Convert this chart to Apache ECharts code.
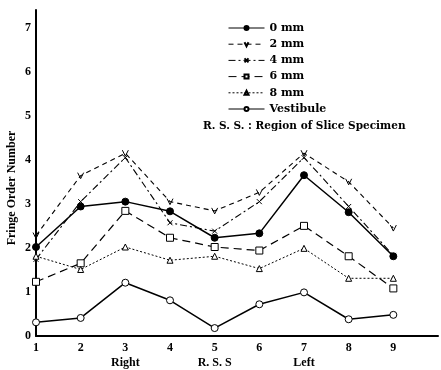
<!DOCTYPE html>
<html>
<head>
<meta charset="utf-8">
<script src="https://cdn.jsdelivr.net/npm/echarts@6/dist/echarts.min.js"></script>
<style>html,body{margin:0;padding:0;background:#fff;}#c{width:441px;height:370px;}</style>
</head>
<body>
<div id="c"></div>
<script>
const categories = ['1','2','3','4','5','6','7','8','9',''];
const subLabels = {'3':'Right','5':'R. S. S','7':'Left'};
const yTicks = [0,1,2,3,4,5,6,7];

const seriesNames = ['0 mm','2 mm','4 mm','6 mm','8 mm','Vestibule'];
const mm0 = [2.02, 2.94, 3.05, 2.83, 2.23, 2.33, 3.65, 2.81, 1.81];
const mm2 = [2.28, 3.64, 4.15, 3.05, 2.84, 3.26, 4.15, 3.50, 2.45];
const mm4 = [1.74, 3.05, 4.05, 2.57, 2.38, 3.05, 4.05, 2.94, 1.83];
const mm6 = [1.23, 1.65, 2.84, 2.23, 2.02, 1.94, 2.50, 1.81, 1.08];
const mm8 = [1.81, 1.51, 2.02, 1.72, 1.81, 1.53, 1.99, 1.31, 1.31];
const vest = [0.31, 0.41, 1.21, 0.81, 0.18, 0.72, 0.99, 0.38, 0.48];

const FONT = "'Liberation Serif', 'DejaVu Serif', serif";
const WFONT = "'DejaVu Serif', serif";

function mk(name, data, lineType, symbol, size, fill, width) {
  return {
    name: name, type: 'line', data: data,
    symbol: symbol, symbolSize: size, showAllSymbol: true,
    lineStyle: {color: '#000', width: width, type: lineType},
    itemStyle: {color: fill, borderColor: '#000', borderWidth: 1},
    emphasis: {disabled: true},
    animation: false, z: 3
  };
}

const chart = echarts.init(document.getElementById('c'), null, {renderer: 'canvas'});
chart.setOption({
  backgroundColor: '#fff',
  animation: false,
  grid: {left: 36, right: -3, top: 10, bottom: 33, containLabel: false},
  xAxis: {
    type: 'category', data: categories, boundaryGap: false,
    axisLine: {lineStyle: {color: '#000', width: 2}},
    axisTick: {show: false},
    axisLabel: {
      interval: 0, color: '#000', fontFamily: FONT, fontWeight: 'bold', fontSize: 12,
      lineHeight: 15, margin: 4,
      formatter: function (v) { return subLabels[v] ? v + '\n' + subLabels[v] : v; }
    },
    splitLine: {show: false}
  },
  yAxis: {
    type: 'value', min: 0, max: 7.4, interval: 1,
    axisLine: {show: true, lineStyle: {color: '#000', width: 2}},
    axisTick: {show: false},
    axisLabel: {
      color: '#000', fontFamily: FONT, fontWeight: 'bold', fontSize: 12, margin: 5,
      formatter: function (v) { return yTicks.indexOf(v) >= 0 ? String(v) : ''; }
    },
    splitLine: {show: false}
  },
  legend: {
    orient: 'vertical', left: 228, top: 22, padding: 0,
    itemWidth: 36, itemHeight: 5, itemGap: 4.2,
    lineStyle: {width: 1},
    textStyle: {color: '#000', fontFamily: WFONT, fontWeight: 'bold', fontSize: 11, lineHeight: 12},
    data: seriesNames
  },
  graphic: [
    {type: 'text', left: 203, top: 121,
     style: {text: 'R. S. S. : Region of Slice Specimen', fill: '#000', font: 'bold 10.5px ' + WFONT}},
    {type: 'text', x: 6, y: 188, rotation: Math.PI / 2,
     style: {text: 'Fringe Order Number', fill: '#000', font: 'bold 12px ' + FONT,
             align: 'center', verticalAlign: 'top'}}
  ],
  series: [
    mk(seriesNames[0], mm0, 'solid', 'circle', 7, '#000', 1.5),
    mk(seriesNames[1], mm2, [5, 4], 'path://M0,0 L5,9 L10,0', 6, 'rgba(0,0,0,0)', 1.1),
    mk(seriesNames[2], mm4, [7, 3, 2, 3], 'path://M0,0 L10,10 M10,0 L0,10', 5, 'rgba(0,0,0,0)', 1.1),
    mk(seriesNames[3], mm6, [8, 5], 'rect', 7, '#fff', 1.2),
    mk(seriesNames[4], mm8, [2, 2], 'triangle', 6, '#fff', 1),
    mk(seriesNames[5], vest, 'solid', 'circle', 7, '#fff', 1.5)
  ]
});
</script>
</body>
</html>
